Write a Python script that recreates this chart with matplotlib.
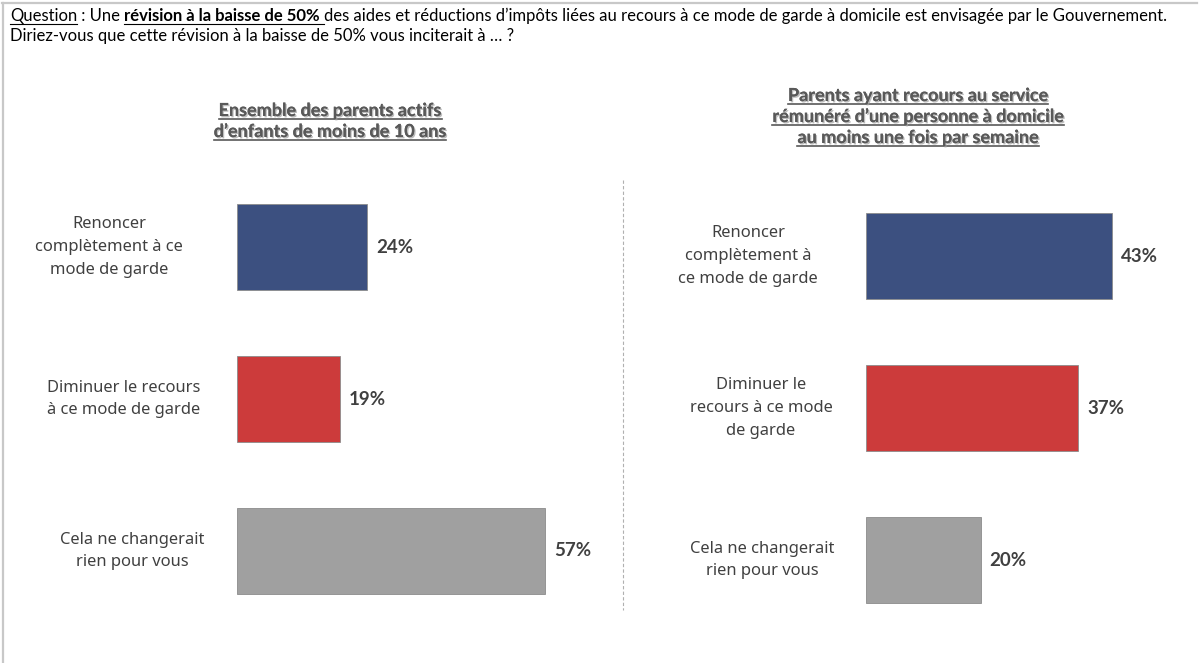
import matplotlib
matplotlib.use('Agg')
import matplotlib.pyplot as plt
from matplotlib.lines import Line2D
import matplotlib.patheffects as pe

W, H = 1203, 663

# data
left_title = "Ensemble des parents actifs\nd’enfants de moins de 10 ans"
right_title = "Parents ayant recours au service\nrémunéré d’une personne à domicile\nau moins une fois par semaine"
left_cats = ["Renoncer\ncomplètement à ce\nmode de garde",
             "Diminuer le recours\nà ce mode de garde",
             "Cela ne changerait\nrien pour vous"]
right_cats = ["Renoncer\ncomplètement à\nce mode de garde",
              "Diminuer le\nrecours à ce mode\nde garde",
              "Cela ne changerait\nrien pour vous"]
left_vals = [24, 19, 57]
right_vals = [43, 37, 20]
colors = ['#3C5080', '#CC3B3B', '#A0A0A0']

QF = 'Lato'
QS = 12.0

fig = plt.figure(figsize=(W / 100, H / 100), dpi=100)
fig.patch.set_facecolor('white')

def px_ax(x0, y0, w, h):
    # y0 = top edge in pixels
    return fig.add_axes([x0 / W, 1 - (y0 + h) / H, w / W, h / H])

def draw_panel(ax_left, ax_top, pxper, cats, vals, label_x):
    axw = 400
    ax = px_ax(ax_left, ax_top, axw, 456)
    ax.barh(range(3), vals, height=0.56, color=colors, edgecolor='#8C8C8C', linewidth=0.6)
    ax.set_xlim(0, axw / pxper)
    ax.set_ylim(2.5, -0.5)
    ax.axis('off')
    for i, v in enumerate(vals):
        ax.text(v + 9 / pxper, i, f"{v}%", va='center', ha='left', fontsize=13.5,
                fontweight='bold', color='#404040', family='Lato')
    for i, c in enumerate(cats):
        ax.text((label_x[i] - ax_left) / pxper, i, c, ha='center', va='center',
                fontsize=11.9, color='#404040', family='Noto Sans', linespacing=1.58)
    return ax

draw_panel(237, 171, 5.41, left_cats, left_vals, [109, 124, 132])
draw_panel(866, 180, 5.73, right_cats, right_vals, [748, 761, 762])

renderer = fig.canvas.get_renderer()

# titles (bold, underlined, shadowed)
def title(x, y_top, text):
    for k, ln in enumerate(text.split("\n")):
        yy = y_top + k * 21
        t = fig.text(x / W, 1 - yy / H, ln, ha='center', va='baseline', fontsize=13,
                     fontweight='bold', color='#595959', family='Lato',
                     path_effects=[pe.withSimplePatchShadow(offset=(1, -1), shadow_rgbFace='#A0A0A0', alpha=0.7), pe.Normal()])
        bb = t.get_window_extent(renderer)
        fig.add_artist(Line2D([bb.x0 / W, bb.x1 / W], [(H - yy - 3) / H] * 2,
                              color='#595959', lw=1.2))

title(330, 116, left_title)
title(918, 101, right_title)

# question header, built piece by piece
def text_width(txt, bold):
    w_ = 'bold' if bold else 'normal'
    a = fig.text(0, 0, txt.replace(' ', '\u00a0') + '|', fontsize=QS, fontweight=w_, family=QF)
    b = fig.text(0, 0, '|', fontsize=QS, fontweight=w_, family=QF)
    w = a.get_window_extent(renderer).width - b.get_window_extent(renderer).width
    a.remove(); b.remove()
    return w

seq_parts = [("Question", False, True), (" : Une ", False, False),
             ("révision à la baisse de 50% ", True, True),
             ("des aides et réductions d’impôts liées au recours à ce mode de garde à domicile est envisagée par le Gouvernement.", False, False)]

x = 10
for txt, bold, ul in seq_parts:
    t = fig.text(x / W, 1 - 21 / H, txt, ha='left', va='baseline', fontsize=QS,
                 fontweight='bold' if bold else 'normal', color='black', family=QF)
    w = text_width(txt, bold)
    if ul:
        fig.add_artist(Line2D([x / W, (x + w) / W], [(H - 23.5) / H] * 2, color='black', lw=0.8))
    x += w

fig.text(10 / W, 1 - 41 / H, "Diriez-vous que cette révision à la baisse de 50% vous inciterait à … ?",
         ha='left', va='baseline', fontsize=QS, color='black', family=QF)

# divider and frame
fig.add_artist(Line2D([623 / W] * 2, [1 - 180 / H, 1 - 610 / H], color='#B0B0B0', lw=0.8, ls=(0, (3, 2))))
fig.add_artist(Line2D([2.5 / W, 2.5 / W], [0, 1 - 3 / H], color='#C8C8C8', lw=1.6))
fig.add_artist(Line2D([2 / W, 1197 / W], [1 - 3 / H] * 2, color='#C8C8C8', lw=1.6))

fig.savefig('out.png', dpi=100, facecolor='white')
